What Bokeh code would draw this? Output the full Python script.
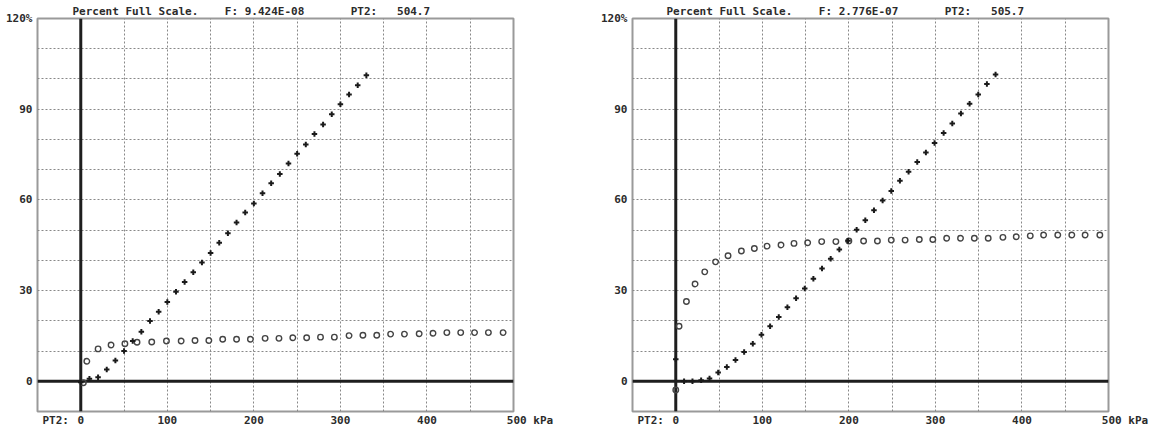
from bokeh.plotting import figure
from bokeh.models import Span, FixedTicker
from bokeh.layouts import row
from bokeh.embed import file_html
from bokeh.resources import INLINE

# ---------------- data ----------------
X_START, X_END = -50, 500
Y_START, Y_END = -10, 120

xtick_values = [0, 100, 200, 300, 400, 500]
xtick_labels = ["0", "100", "200", "300", "400", "500 kPa"]
ytick_values = [0, 30, 60, 90, 120]
ytick_labels = ["0", "30", "60", "90", "120%"]
pt2_label = "PT2:"
PT2_POS = -29  # where the "PT2:" caption sits on the x scale

left_title = "Percent Full Scale.    F: 9.424E-08       PT2:   504.7"
right_title = "Percent Full Scale.    F: 2.776E-07       PT2:   505.7"

# left panel, "+" series
left_plus_x = [0, 10, 20, 30, 40, 50, 60, 70, 80, 90, 100, 110, 120, 130, 140, 150, 160,
               170, 180, 190, 200, 210, 220, 230, 240, 250, 260, 270, 280, 290, 300, 310,
               320, 330]
left_plus_y = [-0.3, 0.8, 1.3, 3.9, 6.9, 10.0, 13.3, 16.4, 19.9, 23.0, 26.2, 29.6, 32.8,
               36.1, 39.3, 42.4, 45.8, 49.0, 52.5, 55.8, 58.8, 62.2, 65.5, 68.6, 72.0, 75.3,
               78.3, 81.8, 84.9, 88.3, 91.6, 94.9, 97.9, 101.2]
# left panel, "o" series
left_circ_x = [3, 7, 20, 35, 51, 65, 82, 99, 116, 132, 148, 164, 180, 196, 213, 229, 245,
               261, 277, 293, 310, 326, 342, 358, 374, 391, 407, 423, 439, 455, 471, 488, 505]
left_circ_y = [-0.5, 6.6, 10.7, 12.0, 12.4, 12.9, 13.0, 13.3, 13.3, 13.5, 13.5, 13.9, 13.9,
               13.9, 14.2, 14.2, 14.4, 14.4, 14.6, 14.6, 15.1, 15.2, 15.2, 15.6, 15.6, 15.7,
               15.9, 16.1, 16.1, 16.1, 16.1, 16.1, 16.5]

# right panel, "+" series
right_plus_x = [0, 9.6, 19.3, 29.3, 39, 49, 59, 69, 79, 89, 99, 109, 119, 129, 139, 149, 159,
                169, 179, 189, 199, 209, 219, 229, 239, 249, 259, 269, 279, 289, 299, 309.5,
                319.5, 329.5, 339.5, 349.5, 359.5, 369.5]
right_plus_y = [7.3, 0.0, 0.0, 0.3, 0.9, 2.9, 4.7, 7.0, 9.7, 12.4, 15.4, 18.2, 21.3, 24.5,
                27.5, 30.7, 33.9, 37.3, 40.5, 43.6, 46.5, 50.1, 53.3, 56.6, 59.8, 62.9, 66.3,
                69.3, 72.5, 75.7, 78.8, 82.1, 85.3, 88.6, 91.8, 94.9, 98.3, 101.5]
# right panel, "o" series
right_circ_x = [0, 3.8, 12.3, 22.3, 33.5, 46, 60.4, 75.8, 90.8, 105.5, 121.6, 136.6, 152.4,
                168.6, 185, 200, 217, 233, 249, 265, 281.4, 297, 313, 329, 345, 361, 378,
                393.4, 409.6, 425, 441.4, 457.6, 473, 490, 506]
right_circ_y = [-2.9, 18.2, 26.4, 32.2, 36.2, 39.5, 41.5, 43.1, 43.9, 44.7, 45.1, 45.6, 45.8,
                46.2, 46.2, 46.4, 46.4, 46.4, 46.7, 46.7, 46.9, 46.9, 47.3, 47.3, 47.3, 47.3,
                47.6, 47.8, 48.1, 48.4, 48.4, 48.4, 48.4, 48.4, 48.4]

FONT = "DejaVu Sans Mono"
TXT = "#2b2b2b"
NB = "\u00a0"


def keep_spaces(s):
    return s.replace(" ", NB)


def panel(title, plus_x, plus_y, circ_x, circ_y, b_left, b_right, title_off):
    p = figure(x_range=(X_START, X_END), y_range=(Y_START, Y_END),
               frame_width=476, frame_height=393,
               min_border_left=b_left, min_border_right=b_right,
               min_border_top=18, min_border_bottom=16,
               title=keep_spaces(title),
               toolbar_location=None, output_backend="svg",
               background_fill_color="white", border_fill_color="white")
    p.outline_line_color = "#9a9a9a"
    p.outline_line_width = 2

    # title
    p.title.text_font = FONT
    p.title.text_font_size = "11px"
    p.title.text_font_style = "bold"
    p.title.text_color = TXT
    p.title.align = "left"
    p.title.offset = title_off
    p.title.standoff = 1

    # grid
    p.xgrid.ticker = FixedTicker(ticks=list(range(X_START, X_END + 1, 50)))
    p.ygrid.ticker = FixedTicker(ticks=list(range(Y_START, Y_END + 1, 10)))
    for g in (p.xgrid, p.ygrid):
        g.grid_line_color = "#888888"
        g.grid_line_dash = "2 2"
        g.grid_line_width = 1

    # axes: labels only
    for ax in (p.xaxis, p.yaxis):
        ax.axis_line_color = None
        ax.major_tick_line_color = None
        ax.minor_tick_line_color = None
        ax.major_tick_out = 0
        ax.major_tick_in = 0
        ax.minor_tick_out = 0
        ax.minor_tick_in = 0
        ax.major_label_text_font = FONT
        ax.major_label_text_font_size = "11px"
        ax.major_label_text_font_style = "bold"
        ax.major_label_text_color = TXT

    p.xaxis.ticker = FixedTicker(ticks=[PT2_POS] + xtick_values)
    xo = {v: keep_spaces(t) for v, t in zip(xtick_values, xtick_labels)}
    # last label "500 kPa" starts just before its tick; pad on the left
    last = xtick_labels[-1]
    xo[xtick_values[-1]] = NB * (len(last) - 2) + keep_spaces(last)
    xo[PT2_POS] = pt2_label
    p.xaxis.major_label_overrides = xo
    p.xaxis.major_label_standoff = 2

    p.yaxis.ticker = FixedTicker(ticks=ytick_values)
    p.yaxis.major_label_overrides = {v: t for v, t in zip(ytick_values, ytick_labels)}
    p.yaxis.major_label_standoff = 5

    # bold zero lines
    p.add_layout(Span(location=0, dimension="width", line_color="#1e1e1e",
                      line_width=3, level="underlay"))
    p.add_layout(Span(location=0, dimension="height", line_color="#1e1e1e",
                      line_width=3, level="underlay"))

    p.scatter(circ_x, circ_y, marker="circle", size=5.5, fill_color=None,
              line_color="#444444", line_width=1.4)
    p.scatter(plus_x, plus_y, marker="cross", size=5.5, line_color="#1a1a1a",
              line_width=2)
    return p


p1 = panel(left_title, left_plus_x, left_plus_y, left_circ_x, left_circ_y, 37, 67, 35)
p2 = panel(right_title, right_plus_x, right_plus_y, right_circ_x, right_circ_y, 52, 44, 34)

layout = row(p1, p2)
open("out.html", "w").write(file_html(layout, INLINE))
